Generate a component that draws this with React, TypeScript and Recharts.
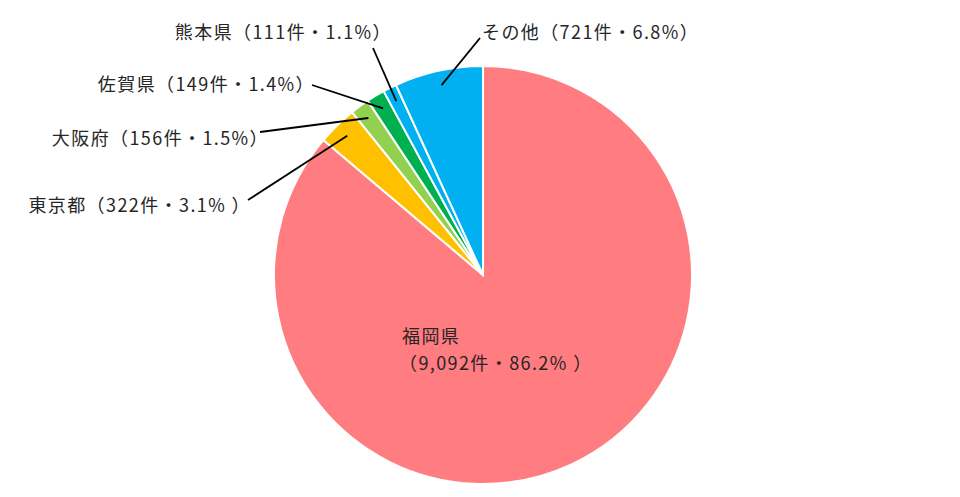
import React from "react";
import { PieChart, Pie, Cell } from "recharts";

const categories = ["福岡県", "東京都", "大阪府", "佐賀県", "熊本県", "その他"];
const counts = [9092, 322, 156, 149, 111, 721];
const colors = ["#FF7C80", "#FFC000", "#92D050", "#00B050", "#00B0F0", "#00B0F0"];
const spaceBeforeParen = [true, true, false, false, false, false];

const data = categories.map((name, i) => ({ name, value: counts[i] }));

// label layout, offsets relative to pie centre
const LAYOUT = [
  { tx: -81, ty: 60, anchor: "start", inside: true },
  { tx: -232, ty: -71, anchor: "end", lx: -235, ly: -75 },
  { tx: -214, ty: -138, anchor: "end", lx: -223, ly: -143 },
  { tx: -168, ty: -192, anchor: "end", lx: -171, ly: -190 },
  { tx: -91, ty: -244, anchor: "end", lx: -110, ly: -227 },
  { tx: -1, ty: -244, anchor: "start", lx: -3, ly: -237 },
];

const FONT = "'Noto Sans CJK JP', 'Noto Sans', sans-serif";
const RAD = Math.PI / 180;

const renderLabel = (props: any) => {
  const { cx, cy, midAngle, outerRadius, percent, index, name, value } = props;
  const cfg = LAYOUT[index];
  const pct = (percent * 100).toFixed(1) + "%" + (spaceBeforeParen[index] ? " " : "");
  const body = `（${Number(value).toLocaleString("en-US")}件・${pct}）`;
  const textStyle = { fontFamily: FONT, fontSize: 18, fill: "#262626", letterSpacing: 1.4 } as any;
  if (cfg.inside) {
    return (
      <g key={`lbl-${index}`}>
        <text x={cx + cfg.tx} y={cy + cfg.ty} textAnchor="start" dominantBaseline="central" style={textStyle}>
          {name}
        </text>
        <text x={cx + cfg.tx - 3} y={cy + cfg.ty + 27} textAnchor="start" dominantBaseline="central" style={textStyle}>
          {body}
        </text>
      </g>
    );
  }
  const r = outerRadius * 0.93;
  const sx = cx + r * Math.cos(-midAngle * RAD);
  const sy = cy + r * Math.sin(-midAngle * RAD);
  return (
    <g key={`lbl-${index}`}>
      <line x1={sx} y1={sy} x2={cx + cfg.lx!} y2={cy + cfg.ly!} stroke="#000" strokeWidth={1.8} />
      <text x={cx + cfg.tx} y={cy + cfg.ty} textAnchor={cfg.anchor as any} dominantBaseline="central" style={textStyle}>
        {name + body}
      </text>
    </g>
  );
};

export default function App() {
  return (
    <div style={{ width: 960, height: 497, background: "#fff" }}>
      <style>{`body{margin:0}`}</style>
      <PieChart width={960} height={497}>
        <Pie
          data={data}
          dataKey="value"
          nameKey="name"
          cx={478}
          cy={270}
          outerRadius={209}
          startAngle={90}
          endAngle={-270}
          stroke="#FFFFFF"
          strokeWidth={2}
          label={renderLabel}
          labelLine={false}
          isAnimationActive={false}
        >
          {data.map((d, i) => (
            <Cell key={d.name} fill={colors[i]} />
          ))}
        </Pie>
      </PieChart>
    </div>
  );
}
